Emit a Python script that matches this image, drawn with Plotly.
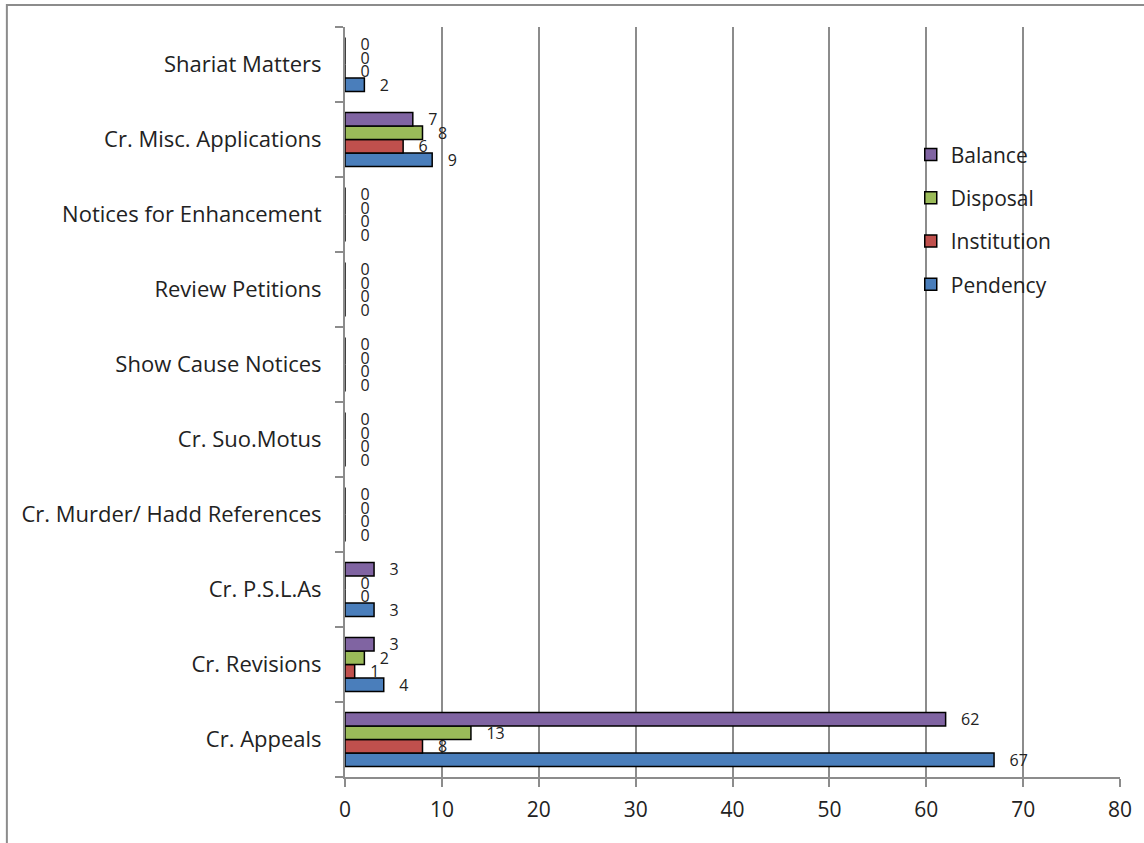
import plotly.graph_objects as go

categories = ["Cr. Appeals", "Cr. Revisions", "Cr. P.S.L.As", "Cr. Murder/ Hadd References",
              "Cr. Suo.Motus", "Show Cause Notices", "Review Petitions",
              "Notices for Enhancement", "Cr. Misc. Applications", "Shariat Matters"]
pendency = [67, 4, 3, 0, 0, 0, 0, 0, 9, 2]
institution = [8, 1, 0, 0, 0, 0, 0, 0, 6, 0]
disposal = [13, 2, 0, 0, 0, 0, 0, 0, 8, 0]
balance = [62, 3, 3, 0, 0, 0, 0, 0, 7, 0]
x_ticks = [0, 10, 20, 30, 40, 50, 60, 70, 80]

series = [("Pendency", pendency, "#4A7EBB"),
          ("Institution", institution, "#C0504D"),
          ("Disposal", disposal, "#9BBB59"),
          ("Balance", balance, "#8064A2")]

FONT = "Open Sans"
fig = go.Figure()
for i, (name, vals, col) in enumerate(series):
    fig.add_trace(go.Bar(
        y=categories, x=vals, name=name, orientation="h",
        marker=dict(color=col, line=dict(color="#000000", width=1.5)),
        text=vals, texttemplate="\u00a0\u00a0\u00a0%{x}", textposition="outside",
        constraintext="none",
        textfont=dict(family=FONT, size=16, color="#222222"),
        cliponaxis=False, legendgroup=name, legendrank=4 - i,
    ))

fig.update_layout(
    width=1144, height=843,
    barmode="group", bargap=0.28, bargroupgap=0,
    plot_bgcolor="white", paper_bgcolor="white",
    margin=dict(l=345, r=22, t=27, b=66, pad=0),
    font=dict(family=FONT, size=19, color="#222222"),
    legend=dict(x=0.73, y=0.857, xanchor="left", yanchor="top",
                traceorder="grouped", tracegroupgap=13,
                font=dict(family=FONT, size=21, color="#222222"),
                bgcolor="rgba(0,0,0,0)"),
    showlegend=True,
)
fig.update_xaxes(range=[0, 80], tickvals=x_ticks, showgrid=True, gridcolor="#8C8C8C",
                 gridwidth=1.5, showline=True, linecolor="#8C8C8C", linewidth=2,
                 ticks="outside", ticklen=8, tickcolor="#8C8C8C", tickwidth=1.5,
                 zeroline=False, tickfont=dict(size=21), ticklabelstandoff=5)
fig.update_yaxes(type="category", categoryorder="array", categoryarray=categories,
                 showgrid=False, showline=True, linecolor="#8C8C8C", linewidth=2,
                 ticks="outside", ticklen=8, tickcolor="#8C8C8C", tickwidth=1.5,
                 tickson="boundaries", tickfont=dict(size=22), ticklabelstandoff=17)

fig.add_shape(type="rect", xref="paper", yref="paper",
              x0=-0.4363, x1=1.04, y0=-0.1, y1=1.0293,
              line=dict(color="#8C8C8C", width=2), fillcolor="rgba(0,0,0,0)", layer="below")

fig.write_html("out.html")
